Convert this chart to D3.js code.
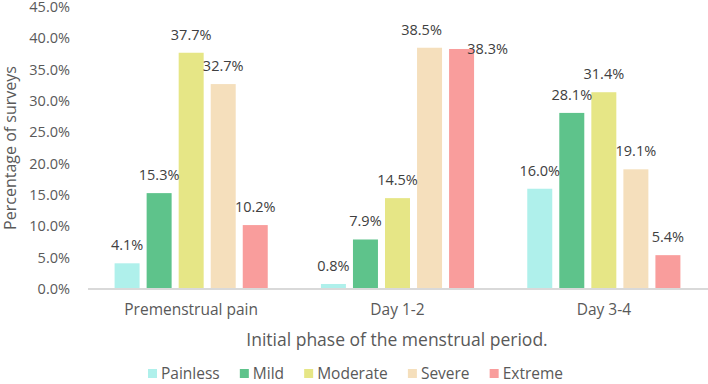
<!DOCTYPE html>
<html>
<head>
<meta charset="utf-8">
<script src="https://cdn.jsdelivr.net/npm/d3@7"></script>
<style>
  html, body { margin: 0; padding: 0; background: #fff; }
  svg { display: block; font-family: "Open Sans", "Noto Sans", sans-serif; }
</style>
</head>
<body>
<svg id="chart" width="708" height="384"></svg>
<script>
const categories = ["Premenstrual pain", "Day 1-2", "Day 3-4"];
const seriesNames = ["Painless", "Mild", "Moderate", "Severe", "Extreme"];
const painless = [4.1, 0.8, 16.0];
const mild = [15.3, 7.9, 28.1];
const moderate = [37.7, 14.5, 31.4];
const severe = [32.7, 38.5, 19.1];
const extreme = [10.2, 38.3, 5.4];
const yTicks = [0, 5, 10, 15, 20, 25, 30, 35, 40, 45];
const colors = ["#aff0eb", "#5ec38b", "#e6e686", "#f5dfbc", "#f99d9c"];

const seriesValues = [painless, mild, moderate, severe, extreme];

const svg = d3.select("#chart");
const plotLeft = 88, plotRight = 707, plotTop = 7, plotBottom = 289;

const y = d3.scaleLinear().domain([0, 45]).range([plotBottom, plotTop]);
const x0 = d3.scaleBand().domain(categories).range([plotLeft, plotRight]).padding(0);
const x1 = d3.scaleBand().domain(seriesNames).range([0, x0.bandwidth()])
  .paddingInner(0.22).paddingOuter(0.83);
const color = d3.scaleOrdinal().domain(seriesNames).range(colors);

const fmt = d => d.toFixed(1) + "%";

// Y axis (labels only)
const yAxis = d3.axisLeft(y).tickValues(yTicks).tickFormat(fmt).tickSize(0).tickPadding(0);
const gy = svg.append("g").attr("transform", `translate(70,0)`).call(yAxis);
gy.select(".domain").remove();
gy.selectAll("text").attr("fill", "#595959").style("font-size", "14.5px")
  .style("font-family", '"Open Sans", sans-serif');

// Bars
const data = [];
categories.forEach((c, ci) => {
  seriesNames.forEach((s, si) => {
    data.push({ cat: c, series: s, value: seriesValues[si][ci] });
  });
});

svg.append("g").selectAll("rect").data(data).join("rect")
  .attr("x", d => x0(d.cat) + x1(d.series))
  .attr("y", d => y(d.value))
  .attr("width", x1.bandwidth())
  .attr("height", d => y(0) - y(d.value))
  .attr("fill", d => color(d.series));

// Baseline + category labels
const gx = svg.append("g").attr("transform", `translate(0,${plotBottom})`)
  .call(d3.axisBottom(x0).tickSize(0).tickPadding(15));
gx.select(".domain").attr("stroke", "#d9d9d9").attr("stroke-width", 2)
  .attr("d", `M${plotLeft},0H${plotRight + 1}`);
gx.selectAll("text").attr("fill", "#595959").style("font-size", "15.5px")
  .style("font-family", '"Open Sans", sans-serif');

// Data labels (Excel nudged two overlapping labels)
const nudge = { "Day 1-2|Severe": [-8, 0], "Day 1-2|Extreme": [26, 18] };
const nd = d => nudge[d.cat + "|" + d.series] || [0, 0];
svg.append("g").selectAll("text").data(data).join("text")
  .attr("x", d => x0(d.cat) + x1(d.series) + x1.bandwidth() / 2 + nd(d)[0])
  .attr("y", d => y(d.value) - 13 + nd(d)[1])
  .attr("text-anchor", "middle")
  .attr("fill", "#404040")
  .style("font-size", "14.5px")
  .text(d => fmt(d.value));

// Axis titles
svg.append("text")
  .attr("x", 397).attr("y", 346)
  .attr("text-anchor", "middle").attr("fill", "#595959")
  .style("font-size", "17.5px")
  .text("Initial phase of the menstrual period.");

svg.append("text")
  .attr("transform", `translate(16,148) rotate(-90)`)
  .attr("text-anchor", "middle").attr("fill", "#595959")
  .style("font-size", "16px")
  .text("Percentage of surveys");

// Legend
const legend = svg.append("g");
const items = legend.selectAll("g").data(seriesNames).join("g");
items.append("rect").attr("width", 9).attr("height", 9).attr("y", -10)
  .attr("fill", d => color(d));
items.append("text").attr("x", 13).attr("y", 0)
  .attr("fill", "#595959").style("font-size", "15.5px").text(d => d);
const widths = [];
items.each(function () { widths.push(this.getBBox().width); });
const spanL = 148, spanR = 563;
const gap = (spanR - spanL - d3.sum(widths)) / (widths.length - 1);
let start = spanL;
items.attr("transform", (d, i) => {
  const t = `translate(${start},379)`;
  start += widths[i] + gap;
  return t;
});
</script>
</body>
</html>
